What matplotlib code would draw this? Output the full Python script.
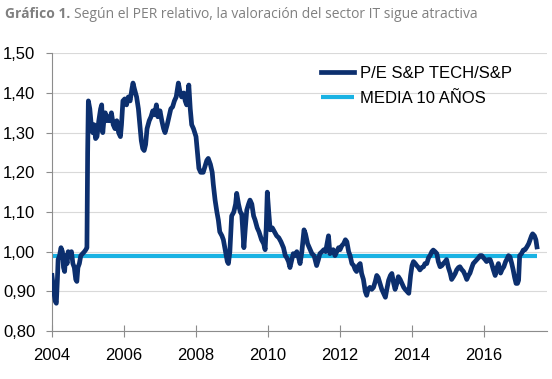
import matplotlib.pyplot as plt

# Relative P/E, S&P Tech vs S&P 500 (decimal years)
years = [
    2004.00, 2004.05, 2004.09, 2004.12, 2004.15, 2004.17, 2004.21, 2004.25, 2004.29, 2004.32,
    2004.35, 2004.38, 2004.42, 2004.45, 2004.50, 2004.54, 2004.58, 2004.62, 2004.66, 2004.69,
    2004.72, 2004.76, 2004.80, 2004.85, 2004.90, 2004.94, 2004.97, 2004.99, 2005.01, 2005.05,
    2005.09, 2005.13, 2005.17, 2005.21, 2005.25, 2005.30, 2005.35, 2005.38, 2005.41, 2005.44,
    2005.48, 2005.52, 2005.56, 2005.60, 2005.65, 2005.70, 2005.75, 2005.80, 2005.85, 2005.90,
    2005.93, 2005.97, 2006.02, 2006.07, 2006.12, 2006.17, 2006.22, 2006.25, 2006.29, 2006.35,
    2006.40, 2006.44, 2006.48, 2006.52, 2006.56, 2006.60, 2006.64, 2006.70, 2006.75, 2006.80,
    2006.85, 2006.90, 2006.94, 2007.00, 2007.05, 2007.10, 2007.14, 2007.20, 2007.25, 2007.30,
    2007.35, 2007.40, 2007.45, 2007.51, 2007.56, 2007.60, 2007.66, 2007.70, 2007.74, 2007.80,
    2007.84, 2007.88, 2007.93, 2008.00, 2008.05, 2008.08, 2008.13, 2008.20, 2008.25, 2008.30,
    2008.34, 2008.40, 2008.45, 2008.48, 2008.53, 2008.58, 2008.62, 2008.66, 2008.72, 2008.76,
    2008.82, 2008.87, 2008.90, 2008.94, 2008.99, 2009.05, 2009.10, 2009.13, 2009.18, 2009.23,
    2009.27, 2009.31, 2009.33, 2009.37, 2009.41, 2009.46, 2009.50, 2009.55, 2009.60, 2009.64,
    2009.70, 2009.75, 2009.82, 2009.88, 2009.92, 2009.95, 2009.98, 2010.02, 2010.06, 2010.12,
    2010.18, 2010.24, 2010.30, 2010.36, 2010.43, 2010.48, 2010.52, 2010.57, 2010.61, 2010.66,
    2010.70, 2010.75, 2010.80, 2010.85, 2010.89, 2010.94, 2011.00, 2011.04, 2011.10, 2011.17,
    2011.22, 2011.28, 2011.35, 2011.40, 2011.44, 2011.50, 2011.55, 2011.60, 2011.64, 2011.68,
    2011.72, 2011.77, 2011.81, 2011.86, 2011.91, 2011.96, 2012.00, 2012.05, 2012.10, 2012.15,
    2012.19, 2012.24, 2012.28, 2012.33, 2012.38, 2012.42, 2012.46, 2012.51, 2012.56, 2012.60,
    2012.65, 2012.70, 2012.74, 2012.78, 2012.83, 2012.88, 2012.93, 2012.98, 2013.02, 2013.06,
    2013.11, 2013.16, 2013.21, 2013.26, 2013.30, 2013.35, 2013.40, 2013.44, 2013.49, 2013.53,
    2013.58, 2013.62, 2013.67, 2013.72, 2013.77, 2013.81, 2013.86, 2013.91, 2013.96, 2014.00,
    2014.04, 2014.09, 2014.13, 2014.18, 2014.22, 2014.27, 2014.32, 2014.36, 2014.41, 2014.46,
    2014.50, 2014.55, 2014.59, 2014.64, 2014.69, 2014.73, 2014.78, 2014.83, 2014.87, 2014.92,
    2014.96, 2015.01, 2015.06, 2015.10, 2015.15, 2015.20, 2015.24, 2015.29, 2015.33, 2015.38,
    2015.43, 2015.48, 2015.52, 2015.57, 2015.61, 2015.66, 2015.70, 2015.75, 2015.80, 2015.85,
    2015.89, 2015.94, 2015.98, 2016.03, 2016.07, 2016.12, 2016.17, 2016.21, 2016.26, 2016.31,
    2016.36, 2016.40, 2016.46, 2016.50, 2016.55, 2016.60, 2016.63, 2016.68, 2016.72, 2016.77,
    2016.81, 2016.85, 2016.89, 2016.93, 2016.96, 2016.99, 2017.04, 2017.09, 2017.14, 2017.19,
    2017.24, 2017.28, 2017.32, 2017.35, 2017.40, 2017.44, 2017.47,
]
pe_relative = [
    0.940, 0.900, 0.875, 0.870, 0.930, 0.980, 0.990, 1.010, 1.000, 0.960,
    0.950, 0.990, 0.970, 1.000, 0.990, 1.000, 0.970, 0.960, 0.930, 0.925,
    0.960, 0.970, 0.990, 0.995, 1.000, 1.005, 1.010, 1.250, 1.380, 1.360,
    1.320, 1.300, 1.320, 1.285, 1.290, 1.330, 1.360, 1.370, 1.300, 1.330,
    1.350, 1.330, 1.340, 1.330, 1.350, 1.320, 1.310, 1.330, 1.300, 1.290,
    1.320, 1.380, 1.385, 1.370, 1.390, 1.380, 1.410, 1.425, 1.410, 1.390,
    1.360, 1.320, 1.280, 1.260, 1.255, 1.270, 1.310, 1.330, 1.340, 1.355,
    1.345, 1.370, 1.340, 1.355, 1.330, 1.310, 1.300, 1.320, 1.340, 1.360,
    1.365, 1.380, 1.390, 1.425, 1.400, 1.390, 1.400, 1.380, 1.370, 1.420,
    1.360, 1.320, 1.310, 1.290, 1.240, 1.210, 1.200, 1.200, 1.215, 1.230,
    1.235, 1.220, 1.200, 1.170, 1.130, 1.100, 1.080, 1.050, 1.040, 1.030,
    1.000, 0.975, 0.970, 1.000, 1.090, 1.100, 1.120, 1.147, 1.120, 1.100,
    1.095, 1.040, 1.010, 1.060, 1.105, 1.120, 1.130, 1.120, 1.090, 1.080,
    1.060, 1.050, 1.030, 1.020, 1.005, 1.060, 1.150, 1.100, 1.055, 1.060,
    1.050, 1.040, 1.035, 1.025, 1.010, 0.990, 0.985, 0.975, 0.960, 0.980,
    0.995, 0.990, 1.000, 0.985, 0.970, 1.000, 1.055, 1.045, 1.020, 1.005,
    0.995, 0.990, 0.965, 0.980, 0.995, 1.000, 1.005, 1.000, 1.020, 1.040,
    0.995, 1.000, 1.005, 0.990, 1.000, 1.010, 1.005, 1.015, 1.020, 1.030,
    1.025, 1.000, 0.990, 0.970, 0.965, 0.955, 0.950, 0.965, 0.970, 0.945,
    0.930, 0.900, 0.890, 0.905, 0.910, 0.905, 0.910, 0.925, 0.940, 0.935,
    0.920, 0.905, 0.895, 0.885, 0.905, 0.928, 0.940, 0.945, 0.920, 0.905,
    0.920, 0.937, 0.930, 0.920, 0.910, 0.905, 0.900, 0.895, 0.940, 0.965,
    0.975, 0.970, 0.965, 0.960, 0.954, 0.960, 0.962, 0.970, 0.970, 0.985,
    0.990, 1.000, 1.004, 1.000, 0.995, 0.975, 0.962, 0.965, 0.970, 0.975,
    0.980, 0.960, 0.946, 0.930, 0.937, 0.945, 0.954, 0.960, 0.962, 0.955,
    0.950, 0.940, 0.930, 0.940, 0.946, 0.960, 0.970, 0.975, 0.980, 0.985,
    0.990, 0.990, 0.985, 0.980, 0.975, 0.980, 0.980, 0.970, 0.954, 0.940,
    0.960, 0.970, 0.946, 0.955, 0.962, 0.975, 0.980, 0.990, 0.987, 0.970,
    0.954, 0.935, 0.920, 0.920, 0.928, 0.990, 0.995, 1.004, 1.005, 1.012,
    1.020, 1.030, 1.040, 1.045, 1.040, 1.030, 1.012,
]
media_10 = 0.99

y_ticks = [0.80, 0.90, 1.00, 1.10, 1.20, 1.30, 1.40, 1.50]
x_ticks = [2004, 2006, 2008, 2010, 2012, 2014, 2016]

navy = '#0c2f6e'
cyan = '#19b2e3'
grey_txt = '#808080'

plt.rcParams['font.family'] = ['Liberation Sans', 'DejaVu Sans']

fig = plt.figure(figsize=(5.52, 3.79), dpi=100)
ax = fig.add_axes([0.0942, 0.1266, 0.8968, 0.7328])

ax.plot([years[0], years[-1]], [media_10, media_10], color=cyan, lw=3.0,
        solid_capstyle='butt', label='MEDIA 10 AÑOS', zorder=2)
ax.plot(years, pe_relative, color=navy, lw=3.4, solid_joinstyle='round',
        label='P/E S&P TECH/S&P', zorder=3)

ax.set_xlim(2004, 2017.75)
ax.set_ylim(0.80, 1.50)
ax.set_yticks(y_ticks)
ax.set_yticklabels([f'{v:.2f}'.replace('.', ',') for v in y_ticks])
ax.set_xticks(x_ticks)
ax.set_xticklabels([str(x) for x in x_ticks])

ax.grid(axis='y', color='#d9d9d9', lw=0.8)
ax.set_axisbelow(True)
for side in ['top', 'right']:
    ax.spines[side].set_visible(False)
for side in ['left', 'bottom']:
    ax.spines[side].set_color('#8c8c8c')
    ax.spines[side].set_linewidth(0.8)
ax.tick_params(axis='y', length=4, width=0.8, color='#8c8c8c', pad=8, labelsize=12)
ax.tick_params(axis='x', direction='inout', length=8, width=0.8, color='#8c8c8c',
               pad=8, labelsize=12)

h, l = ax.get_legend_handles_labels()
fig.legend(h[::-1], l[::-1], loc='upper left', bbox_to_anchor=(0.581, 0.826),
           frameon=False, fontsize=12, handlelength=2.0, handletextpad=0.35,
           labelspacing=0.62, borderpad=0, borderaxespad=0)

# title: bold prefix then regular text
t1 = fig.text(0.009, 0.9525, 'Gráfico 1.', family='Open Sans', fontweight='bold',
              fontsize=10, color=grey_txt, va='baseline')
fig.canvas.draw()
bb = t1.get_window_extent()
x2 = (bb.x1 + 4) / fig.bbox.width
fig.text(x2, 0.9525, 'Según el PER relativo, la valoración del sector IT sigue atractiva',
         family='Open Sans', fontsize=10, color=grey_txt, va='baseline')

fig.savefig('out.png', dpi=100)
